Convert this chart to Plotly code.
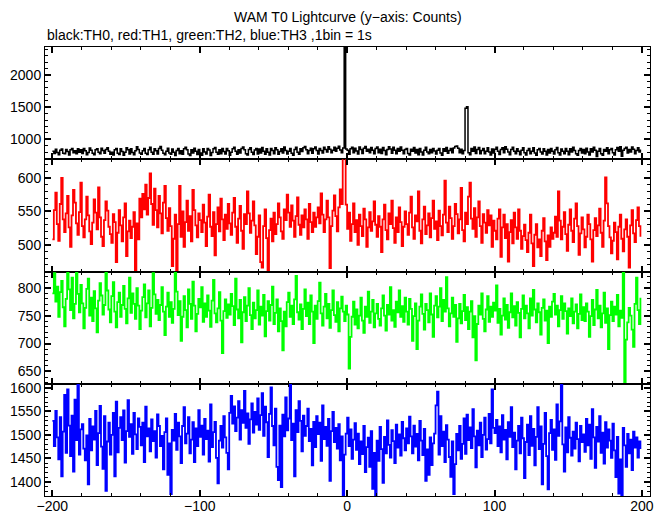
import plotly.graph_objects as go
from plotly.subplots import make_subplots

x_start = -200

th0 = [
    812, 778, 845, 796, 760, 828, 850, 784, 775, 841, 809, 756, 835, 857, 790, 821, 773, 852, 798, 837,
    779, 856, 823, 761, 795, 864, 829, 782, 758, 836, 853, 797, 776, 859, 824, 781, 840, 868, 812, 767,
    799, 755, 837, 856, 783, 764, 851, 811, 753, 798, 870, 836, 769, 854, 796, 760, 823, 885, 840, 785,
    768, 821, 857, 784, 762, 838, 875, 799, 766, 852, 823, 771, 856, 887, 828, 783, 760, 812, 859, 787,
    765, 850, 798, 747, 824, 856, 773, 821, 768, 854, 877, 835, 772, 749, 836, 786, 859, 812, 764, 839,
    785, 752, 853, 800, 769, 858, 834, 747, 796, 851, 873, 799, 766, 837, 774, 855, 811, 770, 856, 823,
    750, 798, 852, 876, 812, 767, 838, 785, 857, 881, 836, 773, 755, 839, 870, 798, 762, 834, 855, 771,
    847, 786, 873, 812, 768, 851, 799, 754, 856, 825, 773, 870, 838, 766, 811, 854, 787, 879, 825, 770,
    812, 857, 783, 751, 839, 874, 798, 767, 853, 811, 869, 886, 838, 775, 826, 861, 783, 852, 878, 824,
    771, 855, 827, 788, 874, 842, 803, 883, 846, 789, 830, 877, 815, 859, 892, 834, 791, 863, 2800, 850,
    828, 765, 853, 876, 790, 859, 816, 772, 878, 841, 777, 861, 886, 815, 846, 789, 873, 829, 774, 857,
    880, 792, 845, 778, 871, 827, 759, 842, 885, 848, 781, 875, 828, 773, 856, 814, 879, 831, 776, 839,
    857, 780, 756, 843, 815, 872, 788, 840, 761, 856, 803, 757, 829, 874, 801, 775, 842, 789, 858, 816,
    770, 828, 855, 787, 753, 851, 812, 871, 784, 827, 856, 789, 865, 888, 896, 860, 792, 844, 776, 825,
    1485, 1505, 792, 758, 856, 815, 880, 779, 841, 871, 773, 827, 858, 775, 814, 869, 801, 756, 850, 788,
    843, 877, 814, 762, 839, 868, 790, 885, 846, 803, 758, 841, 874, 815, 776, 854, 812, 759, 828, 870,
    789, 754, 826, 855, 773, 812, 869, 787, 751, 838, 856, 801, 770, 852, 814, 757, 839, 788, 857, 813,
    772, 838, 871, 789, 755, 850, 812, 774, 856, 815, 758, 853, 800, 876, 827, 773, 752, 824, 855, 788,
    839, 776, 859, 803, 757, 852, 801, 875, 828, 730, 814, 857, 776, 753, 840, 812, 869, 774, 837, 856,
    789, 755, 838, 871, 812, 882, 735, 828, 856, 874, 788, 841, 803, 880, 846, 775, 827, 869, 801, 840,
]

th1 = [
    508, 552, 578, 531, 506, 561, 600, 538, 519, 547, 573, 526, 497, 544, 582, 563, 532, 515, 549, 593,
    528, 511, 538, 572, 544, 520, 501, 533, 568, 548, 523, 586, 541, 512, 498, 537, 565, 551, 527, 516,
    503, 546, 534, 474, 518, 552, 529, 505, 541, 562, 483, 520, 536, 510, 527, 549, 458, 532, 508, 569,
    541, 576, 553, 590, 545, 570, 607, 561, 530, 584, 552, 526, 573, 547, 517, 563, 588, 540, 521, 555,
    528, 468, 509, 545, 459, 531, 588, 512, 550, 497, 534, 566, 521, 543, 505, 582, 552, 529, 511, 547,
    537, 519, 560, 533, 498, 542, 575, 527, 513, 549, 484, 531, 556, 520, 569, 538, 507, 545, 524, 561,
    532, 515, 548, 570, 527, 503, 539, 558, 521, 494, 546, 531, 580, 547, 518, 536, 565, 529, 486, 512,
    544, 474, 466, 528, 553, 510, 459, 522, 539, 505, 548, 516, 531, 562, 541, 520, 509, 553, 537, 575,
    548, 527, 559, 536, 512, 543, 571, 530, 515, 544, 526, 553, 538, 509, 561, 534, 519, 548, 527, 541,
    556, 532, 577, 545, 519, 538, 566, 541, 465, 528, 551, 574, 543, 520, 556, 583, 561, 640, 655, 560,
    524, 548, 506, 531, 562, 519, 537, 500, 545, 528, 513, 554, 538, 497, 526, 549, 521, 535, 565, 530,
    512, 543, 527, 489, 538, 560, 522, 508, 547, 531, 566, 525, 503, 541, 519, 556, 534, 498, 527, 550,
    531, 515, 548, 572, 526, 509, 544, 535, 580, 521, 502, 538, 557, 516, 529, 547, 511, 540, 566, 524,
    535, 507, 551, 528, 514, 545, 596, 533, 519, 557, 540, 509, 528, 561, 546, 517, 538, 585, 522, 505,
    548, 531, 572, 593, 539, 524, 555, 512, 541, 565, 528, 503, 546, 533, 518, 552, 529, 544, 497, 536,
    521, 508, 539, 553, 482, 526, 545, 510, 531, 475, 519, 537, 502, 548, 526, 509, 553, 521, 494, 513,
    530, 507, 489, 518, 545, 502, 468, 515, 531, 496, 508, 483, 521, 540, 505, 477, 514, 497, 526, 509,
    518, 542, 512, 580, 536, 508, 527, 549, 516, 491, 530, 553, 521, 504, 539, 562, 528, 485, 517, 541,
    523, 496, 512, 545, 531, 508, 475, 522, 540, 513, 529, 554, 518, 497, 536, 601, 562, 528, 511, 487,
    506, 533, 519, 478, 527, 545, 509, 490, 523, 538, 512, 466, 529, 552, 517, 504, 537, 556, 528, 512,
]

th2 = [
    790, 826, 775, 802, 748, 792, 812, 765, 731, 780, 835, 797, 760, 818, 745, 771, 834, 789, 756, 805,
    772, 727, 764, 798, 816, 750, 782, 740, 794, 763, 720, 777, 808, 786, 752, 769, 832, 795, 761, 738,
    785, 810, 757, 729, 774, 791, 748, 769, 803, 762, 736, 781, 818, 755, 790, 771, 744, 799, 768, 726,
    759, 783, 806, 747, 772, 795, 731, 764, 826, 788, 753, 778, 742, 769, 801, 757, 715, 766, 791, 748,
    774, 737, 762, 834, 793, 751, 776, 705, 748, 785, 760, 729, 797, 771, 744, 811, 768, 722, 753, 780,
    765, 801, 739, 772, 748, 786, 759, 730, 777, 814, 754, 738, 763, 792, 741, 683, 758, 779, 746, 770,
    752, 789, 767, 733, 816, 761, 745, 778, 702, 756, 783, 740, 768, 799, 751, 726, 773, 745, 760, 795,
    734, 766, 750, 787, 713, 758, 776, 741, 769, 802, 735, 755, 779, 722, 763, 740, 688, 757, 731, 774,
    791, 748, 768, 735, 779, 821, 756, 743, 770, 726, 762, 797, 749, 773, 735, 786, 757, 701, 768, 744,
    776, 809, 754, 732, 766, 789, 745, 771, 728, 760, 795, 751, 739, 774, 722, 763, 784, 757, 740, 768,
    752, 655, 712, 748, 775, 734, 761, 727, 750, 782, 741, 719, 766, 748, 793, 737, 757, 778, 729, 754,
    771, 744, 732, 763, 786, 750, 723, 769, 752, 801, 741, 760, 730, 775, 756, 795, 748, 767, 739, 782,
    757, 734, 780, 762, 705, 749, 772, 690, 741, 766, 788, 753, 725, 771, 760, 738, 790, 752, 712, 768,
    785, 747, 766, 799, 740, 778, 757, 819, 763, 731, 754, 782, 748, 769, 703, 745, 771, 736, 758, 787,
    742, 765, 726, 757, 776, 711, 749, 670, 735, 768, 752, 790, 744, 722, 761, 785, 739, 766, 748, 773,
    759, 804, 737, 762, 716, 750, 781, 743, 769, 728, 756, 790, 747, 767, 732, 774, 755, 711, 762, 786,
    745, 768, 754, 727, 781, 750, 796, 761, 738, 772, 756, 716, 764, 779, 741, 759, 701, 766, 748, 775,
    789, 752, 768, 731, 760, 785, 744, 772, 758, 718, 763, 749, 781, 736, 757, 770, 727, 753, 788, 742,
    765, 740, 772, 757, 712, 749, 778, 733, 761, 796, 745, 768, 729, 754, 791, 737, 763, 690, 751, 775,
    740, 766, 752, 787, 731, 759, 746, 827, 612, 707, 738, 764, 750, 725, 694, 771, 818, 760, 735, 782,
]

th3 = [
    1530, 1476, 1551, 1495, 1448, 1538, 1412, 1507, 1585, 1462, 1597, 1520, 1455, 1541, 1422, 1575, 1489, 1608, 1458, 1512,
    1523, 1471, 1446, 1499, 1395, 1534, 1467, 1518, 1490, 1551, 1436, 1504, 1562, 1475, 1428, 1540, 1381, 1486, 1526, 1458,
    1500, 1547, 1412, 1571, 1463, 1515, 1538, 1489, 1552, 1441, 1508, 1574, 1496, 1523, 1460, 1547, 1501, 1470, 1535, 1517,
    1478, 1526, 1442, 1560, 1497, 1514, 1465, 1533, 1487, 1508, 1452, 1544, 1519, 1476, 1498, 1427, 1506, 1535, 1415, 1482,
    1374, 1511, 1488, 1545, 1468, 1526, 1497, 1440, 1519, 1559, 1482, 1503, 1538, 1461, 1490, 1527, 1442, 1514, 1476, 1553,
    1496, 1520, 1458, 1534, 1491, 1509, 1443, 1565, 1474, 1506, 1528, 1451, 1397, 1488, 1519, 1473, 1540, 1495, 1462, 1427,
    1547, 1583, 1524, 1561, 1508, 1537, 1572, 1490, 1553, 1526, 1594, 1515, 1546, 1481, 1533, 1567, 1505, 1549, 1522, 1578,
    1511, 1542, 1589, 1498, 1560, 1527, 1453, 1545, 1601, 1519, 1478, 1556, 1432, 1404, 1520, 1389, 1543, 1497, 1580, 1510,
    1535, 1608, 1489, 1524, 1412, 1553, 1506, 1572, 1530, 1465, 1541, 1498, 1519, 1556, 1487, 1513, 1435, 1528, 1474, 1540,
    1502, 1526, 1445, 1563, 1491, 1517, 1477, 1534, 1402, 1508, 1549, 1485, 1515, 1471, 1523, 1446, 1497, 1365, 1458, 1503,
    1537, 1476, 1512, 1449, 1490, 1525, 1468, 1503, 1438, 1486, 1459, 1519, 1421, 1474, 1494, 1432, 1508, 1385, 1462, 1366,
    1488, 1445, 1517, 1470, 1398, 1496, 1461, 1531, 1479, 1452, 1510, 1487, 1440, 1522, 1473, 1501, 1456, 1528, 1493, 1467,
    1514, 1482, 1539, 1497, 1461, 1520, 1475, 1502, 1446, 1530, 1488, 1457, 1513, 1402, 1469, 1415, 1495, 1436, 1482, 1503,
    1563, 1592, 1458, 1540, 1476, 1507, 1442, 1521, 1490, 1453, 1411, 1486, 1374, 1438, 1502, 1467, 1519, 1449, 1481, 1535,
    1460, 1543, 1489, 1516, 1472, 1555, 1497, 1431, 1509, 1478, 1526, 1453, 1500, 1537, 1469, 1491, 1545, 1482, 1597, 1515,
    1504, 1532, 1476, 1518, 1463, 1542, 1490, 1511, 1448, 1527, 1496, 1559, 1474, 1505, 1427, 1488, 1519, 1461, 1537, 1493,
    1408, 1485, 1522, 1457, 1540, 1477, 1513, 1435, 1496, 1559, 1470, 1518, 1395, 1481, 1547, 1455, 1384, 1504, 1532, 1468,
    1512, 1447, 1565, 1498, 1529, 1608, 1480, 1422, 1516, 1463, 1538, 1494, 1456, 1507, 1471, 1526, 1491, 1444, 1519, 1485,
    1501, 1464, 1534, 1478, 1522, 1449, 1555, 1495, 1430, 1517, 1486, 1540, 1462, 1505, 1439, 1527, 1473, 1512, 1488, 1451,
    1524, 1467, 1410, 1496, 1375, 1448, 1370, 1515, 1478, 1432, 1502, 1461, 1490, 1425, 1507, 1473, 1495, 1452, 1486, 1470,
]

series = [th0, th1, th2, th3]
colors = ["#000000", "#ff0000", "#00ff00", "#0000ff"]
widths = [1.5, 1.8, 1.8, 1.8]
names = ["TH0", "TH1", "TH2", "TH3"]
y_ranges = [[689, 2437], [460, 628], [628, 829], [1370, 1609]]
y_dticks = [500, 50, 50, 50]
y_minor = [100, 10, 10, 10]
x_range = [-205, 205.5]

fig = make_subplots(rows=4, cols=1, shared_xaxes=True, vertical_spacing=0)

for i, (vals, col, nm) in enumerate(zip(series, colors, names)):
    xs = list(range(x_start, x_start + len(vals)))
    fig.add_trace(
        go.Scatter(x=xs, y=vals, mode="lines", name=nm,
                   line=dict(color=col, width=widths[i], shape="hv"), showlegend=False),
        row=i + 1, col=1)

font_family = "Liberation Sans, Arial, Helvetica, sans-serif"

for i in range(4):
    fig.update_yaxes(
        range=y_ranges[i], dtick=y_dticks[i], tick0=0, automargin=False,
        showline=True, linecolor="black", linewidth=1, mirror="ticks",
        ticks="inside", ticklen=6, tickwidth=2, tickcolor="black",
        minor=dict(dtick=y_minor[i], ticks="inside", ticklen=3, tickwidth=1, tickcolor="black"),
        showgrid=False, zeroline=False,
        tickfont=dict(family=font_family, size=14, color="black"),
        row=i + 1, col=1)
    fig.update_xaxes(
        range=x_range, dtick=100, tick0=0, automargin=False,
        showline=True, linecolor="black", linewidth=1, mirror="ticks",
        ticks="inside", ticklen=6, tickwidth=2, tickcolor="black",
        minor=dict(dtick=20, ticks="inside", ticklen=3, tickwidth=1, tickcolor="black"),
        showgrid=False, zeroline=False,
        tickfont=dict(family=font_family, size=14, color="black"),
        row=i + 1, col=1)
fig.update_xaxes(ticklabelstandoff=-3, row=4, col=1)

W, H = 669, 515
ml, mr, mt, mb = 45, 19, 47, 19
ph = H - mt - mb

fig.update_layout(
    width=W, height=H,
    margin=dict(l=ml, r=mr, t=mt, b=mb, autoexpand=False),
    paper_bgcolor="white", plot_bgcolor="white",
    font=dict(family=font_family, size=14, color="black"),
    annotations=[
        dict(text="WAM T0 Lightcurve (y\u2212axis: Counts)", xref="paper", yref="paper",
             x=0.5, y=1 + (mt - 17) / ph, xanchor="center", yanchor="middle",
             showarrow=False, font=dict(family=font_family, size=14, color="black")),
        dict(text="black:TH0, red:TH1, green:TH2, blue:TH3 ,1bin = 1s", xref="paper", yref="paper",
             x=0, y=1 + (mt - 35) / ph, xanchor="left", yanchor="middle",
             showarrow=False, font=dict(family=font_family, size=14, color="black")),
    ],
)

fig.write_html("out.html", config={"displayModeBar": False},
               post_script="document.body.style.margin='0';document.body.style.overflow='hidden';")
